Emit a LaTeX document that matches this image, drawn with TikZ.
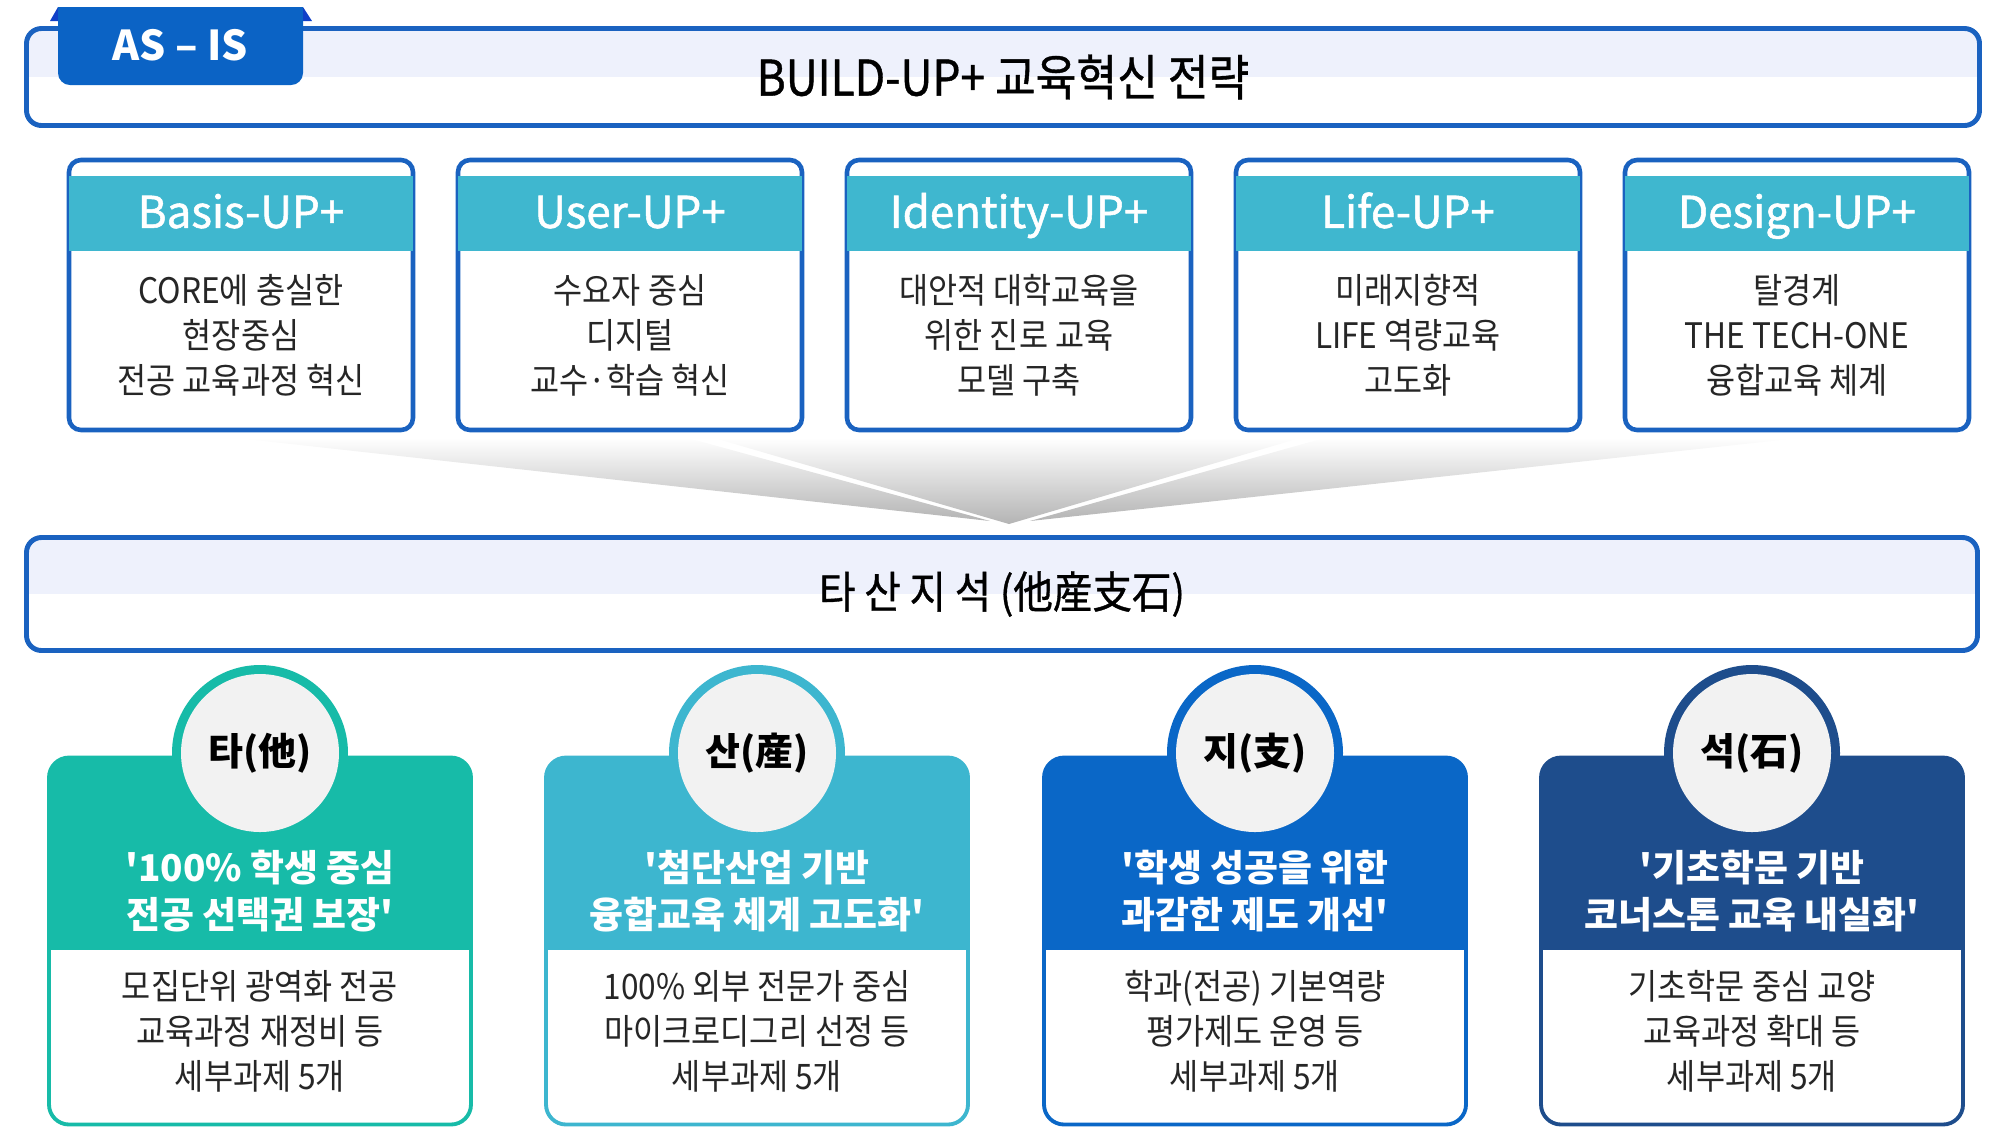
\documentclass[tikz,border=0pt]{standalone}
\usepackage{fontspec}
\setmainfont{Noto Sans CJK KR}[Ligatures=TeXOff]
\newfontfamily\narrowfont{Noto Sans CJK KR}[FakeStretch=0.9, Ligatures=TeXOff]
\newfontfamily\medfont{Noto Sans CJK KR}[FakeBold=1.2, Ligatures=TeXOff]
\newfontfamily\titlefont{Noto Sans CJK KR}[FakeStretch=0.9, FakeBold=0.8, Ligatures=TeXOff]

\definecolor{linkblue}{HTML}{1A62C0}
\definecolor{asblue}{HTML}{0B63C5}
\definecolor{asdark}{HTML}{1040C8}
\definecolor{lavender}{HTML}{EEF1FC}
\definecolor{upteal}{HTML}{3FB7CF}
\definecolor{tagreen}{HTML}{17BBA8}
\definecolor{santeal}{HTML}{3DB6CF}
\definecolor{jiblue}{HTML}{0A67C7}
\definecolor{seoknavy}{HTML}{1E4D8C}
\definecolor{ringgray}{HTML}{F2F2F2}
\definecolor{fangray}{HTML}{B4B4B4}

\tikzset{
  banner/.style={draw=linkblue, line width=1.4pt, fill=white, rounded corners=1.5mm,
    path picture={\fill[lavender, sharp corners] (path picture bounding box.north west) rectangle (path picture bounding box.east);}},
  upbox/.style={draw=linkblue, line width=1.3pt, fill=white, rounded corners=1.2mm, minimum width=34.4mm, minimum height=27mm},
  uphead/.style={fill=upteal, minimum width=34.4mm, minimum height=7.5mm, text height=1.05em, text depth=0.2em, text=white, font=\medfont\fontsize{12.5}{15}\selectfont},
  uptext/.style={align=center, text=black!85, font=\narrowfont\fontsize{10}{12.8}\selectfont},
  card/.style={draw=#1, fill=#1, line width=1.1pt, rounded corners=2mm, minimum width=42.2mm, minimum height=36.7mm,
    path picture={\fill[white, sharp corners] (path picture bounding box.south west) rectangle ([yshift=17.5mm]path picture bounding box.south east);}},
  ring/.style={circle, fill=#1, minimum size=17.6mm, inner sep=0pt},
  hanja/.style={circle, fill=ringgray, minimum size=15.8mm, inner sep=0pt, font=\bfseries\fontsize{10.8}{13}\selectfont},
  cardhead/.style={align=center, text=white, font=\bfseries\fontsize{10.5}{13.4}\selectfont},
  cardtext/.style={align=center, text=black!85, font=\narrowfont\fontsize{10}{12.8}\selectfont}
}

\begin{document}
\begin{tikzpicture}[x=0.1mm, y=-0.1mm]
  \useasboundingbox (0,0) rectangle (2016,1147);

  % strategy banner
  \node[banner, minimum width=195.3mm, minimum height=9.7mm, font=\titlefont\fontsize{14}{16}\selectfont] at (1003,77) (strategy) {BUILD-UP+ 교육혁신 전략};

  % as-is tab
  \fill[asdark] (50,21) -- (58,7) -- (58,21) -- cycle;
  \fill[asdark] (312,21) -- (303,7) -- (303,21) -- cycle;
  \fill[asblue, rounded corners=1.2mm] (58,7) rectangle (303,85);
  \fill[asblue] (58,7) rectangle (303,40);
  \node[text=white, font=\bfseries\fontsize{11.7}{14}\selectfont] at (180,45) (asis) {AS – IS};

  % up boxes
  \node[upbox] at (241,295) (basis) {};
  \node[uphead] at (241,213) (basis head) {Basis-UP+};
  \node[uptext] at (241,335) (basis text) {CORE에 충실한\\현장중심\\전공 교육과정 혁신};

  \node[upbox] at (630,295) (user) {};
  \node[uphead] at (630,213) (user head) {User-UP+};
  \node[uptext] at (630,335) (user text) {수요자 중심\\디지털\\교수·학습 혁신};

  \node[upbox] at (1019,295) (identity) {};
  \node[uphead] at (1019,213) (identity head) {Identity-UP+};
  \node[uptext] at (1019,335) (identity text) {대안적 대학교육을\\위한 진로 교육\\모델 구축};

  \node[upbox] at (1408,295) (life) {};
  \node[uphead] at (1408,213) (life head) {Life-UP+};
  \node[uptext] at (1408,335) (life text) {미래지향적\\LIFE 역량교육\\고도화};

  \node[upbox] at (1797,295) (design) {};
  \node[uphead] at (1797,213) (design head) {Design-UP+};
  \node[uptext] at (1797,335) (design text) {탈경계\\THE TECH-ONE\\융합교육 체계};

  % funnel
  \shade[top color=white, bottom color=fangray] (236,438) -- (688,438) -- (990,521) -- cycle;
  \shade[top color=white, bottom color=fangray] (714,438) -- (1300,438) -- (1009,524) -- cycle;
  \shade[top color=white, bottom color=fangray] (1324,438) -- (1800,438) -- (1030,521) -- cycle;

  % tasan banner
  \node[banner, minimum width=195.1mm, minimum height=11.3mm, font=\titlefont\fontsize{12.5}{15}\selectfont] at (1002,594) (tasan) {타 산 지 석 (他産支石)};

  % cards
  \node[card=tagreen] at (260,941) (ta) {};
  \node[ring=tagreen] at (260,753) (ta ring) {};
  \node[hanja] at (ta ring) (ta label) {타(他)};
  \node[cardhead] at (260,891) (ta head) {'100\% 학생 중심\\전공 선택권 보장'};
  \node[cardtext] at (260,1031) (ta text) {모집단위 광역화 전공\\교육과정 재정비 등\\세부과제 5개};

  \node[card=santeal] at (757,941) (san) {};
  \node[ring=santeal] at (757,753) (san ring) {};
  \node[hanja] at (san ring) (san label) {산(産)};
  \node[cardhead] at (757,891) (san head) {'첨단산업 기반\\융합교육 체계 고도화'};
  \node[cardtext] at (757,1031) (san text) {100\% 외부 전문가 중심\\마이크로디그리 선정 등\\세부과제 5개};

  \node[card=jiblue] at (1255,941) (ji) {};
  \node[ring=jiblue] at (1255,753) (ji ring) {};
  \node[hanja] at (ji ring) (ji label) {지(支)};
  \node[cardhead] at (1255,891) (ji head) {'학생 성공을 위한\\과감한 제도 개선'};
  \node[cardtext] at (1255,1031) (ji text) {학과(전공) 기본역량\\평가제도 운영 등\\세부과제 5개};

  \node[card=seoknavy] at (1752,941) (seok) {};
  \node[ring=seoknavy] at (1752,753) (seok ring) {};
  \node[hanja] at (seok ring) (seok label) {석(石)};
  \node[cardhead] at (1752,891) (seok head) {'기초학문 기반\\코너스톤 교육 내실화'};
  \node[cardtext] at (1752,1031) (seok text) {기초학문 중심 교양\\교육과정 확대 등\\세부과제 5개};
\end{tikzpicture}
\end{document}
